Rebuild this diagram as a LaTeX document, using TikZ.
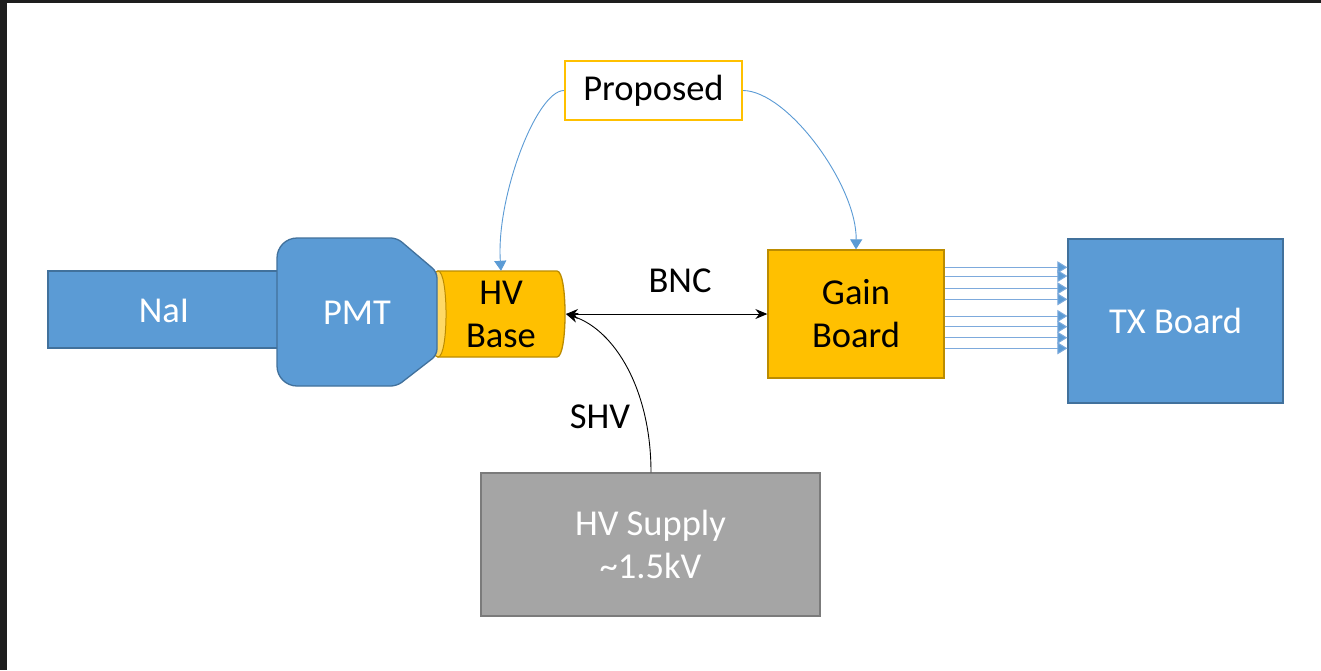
\documentclass[tikz,border=0pt]{standalone}
\usepackage{fontspec}
\setmainfont{Carlito}
\usetikzlibrary{arrows.meta}
\definecolor{bfill}{HTML}{5B9BD5}
\definecolor{bdraw}{HTML}{41719C}
\definecolor{bline}{HTML}{7DAADC}
\definecolor{gfill}{HTML}{FFC000}
\definecolor{gdraw}{HTML}{BC8C00}
\definecolor{gface}{HTML}{FFD966}
\definecolor{sfill}{HTML}{A5A5A5}
\definecolor{sdraw}{HTML}{7B7B7B}
\definecolor{frame}{HTML}{1E1E1E}
\tikzset{
  txt/.style={font=\fontsize{36.5}{43}\selectfont, align=center, inner sep=0pt},
  bluebox/.style={txt, rectangle, fill=bfill, draw=bdraw, line width=1.3pt, text=white},
  goldbox/.style={txt, rectangle, fill=gfill, draw=gdraw, line width=1.3pt, text=black},
  graybox/.style={txt, rectangle, fill=sfill, draw=sdraw, line width=1.3pt, text=white},
  propbox/.style={txt, rectangle, fill=white, draw=gfill, line width=2.2pt, text=black},
  bluecon/.style={draw=bfill, line width=0.9pt, -{Triangle[length=10pt,width=12pt]}},
  blackcon/.style={draw=black, line width=1pt},
  multi/.style={draw=bline, line width=1pt, -{Triangle[length=10pt,width=12pt,fill=bfill]}},
}
\begin{document}
\begin{tikzpicture}[x=1pt,y=-1pt]
\useasboundingbox (0,0) rectangle (1321,670);
\fill[white] (0,0) rectangle (1321,670);
\fill[frame] (0,0) rectangle (1321,3);
\fill[frame] (0,0) rectangle (7,670);

% NaI crystal
\node[bluebox, minimum width=230pt, minimum height=77pt] (nai) at (163,309.5) {};
\node[txt, text=white] (naitext) at (164,311) {NaI};

% HV base (cylinder)
\fill[gfill, draw=gdraw, line width=1.3pt]
  (438,271) -- (557,271) .. controls (567.7,271) and (567.7,357) .. (557,357)
  -- (438,357) .. controls (427.3,357) and (427.3,271) .. (438,271) -- cycle;
\fill[gface, draw=gdraw, line width=1pt]
  (438,271) .. controls (448.7,271) and (448.7,357) .. (438,357)
  .. controls (427.3,357) and (427.3,271) .. (438,271) -- cycle;
\node[txt, minimum width=127pt, minimum height=86pt] (hv) at (501,314) {HV\\Base};
\coordinate (hvright) at (566,314);

% PMT
\draw[fill=bfill, draw=bdraw, line width=1.3pt]
  (437,314) [rounded corners=6pt] -- (437,272) -- (397,238) [rounded corners=20pt] -- (277,238)
  -- (277,386) [rounded corners=6pt] -- (397,386) -- (437,355) -- cycle;
\node[txt, text=white] (pmt) at (357,313) {PMT};

% Gain board, TX board, HV supply, proposed
\node[goldbox, minimum width=176pt, minimum height=128pt] (gain) at (856,314) {Gain\\Board};
\node[bluebox, minimum width=215pt, minimum height=164pt] (tx) at (1175.5,321) {TX Board};
\node[graybox, minimum width=339pt, minimum height=143pt] (sup) at (650.5,544.5) {HV Supply\\\textasciitilde1.5kV};
\node[propbox, minimum width=177pt, minimum height=59pt] (prop) at (653.5,90.5) {Proposed};

% Proposed connectors
\draw[bluecon] (prop.west) .. controls (536,91) and (496,198) .. (hv.north);
\draw[bluecon] (prop.east) .. controls (788,91) and (857,186) .. (gain.north);

% BNC
\draw[blackcon, {Stealth[length=12pt,width=10pt]}-{Stealth[length=12pt,width=10pt]}] (hvright) -- (gain.west);
\node[txt] (bnc) at (680,281) {BNC};

% SHV
\draw[blackcon, line width=0.9pt, -{Stealth[length=12pt,width=10pt]}] (sup.north -| 651,0) .. controls (651,390) and (615,330) .. (hvright);
\node[txt] (shv) at (600,417) {SHV};

% eight signal lines
\foreach \yy in {267.3,276,288.3,299.3,316,326.7,337.7,348.3}
  \draw[multi] (gain.east |- 0,\yy) -- (tx.west |- 0,\yy);
\end{tikzpicture}
\end{document}
